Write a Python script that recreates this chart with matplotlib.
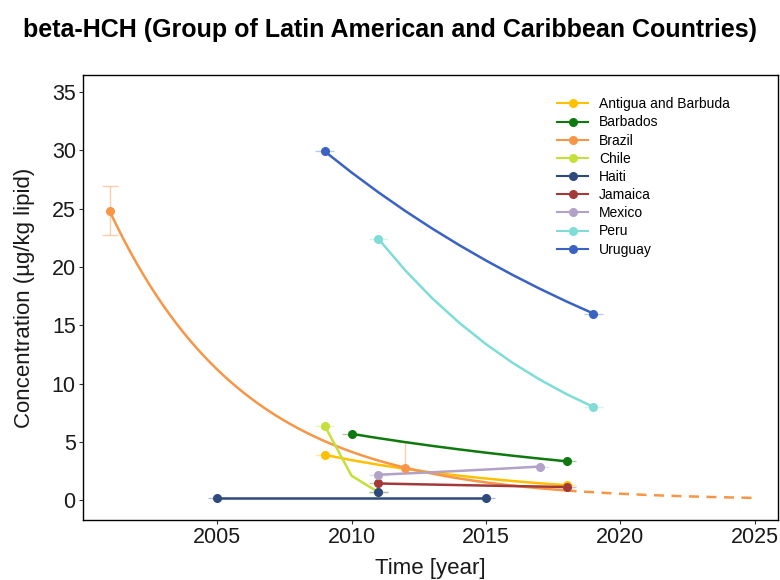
import numpy as np
import matplotlib
matplotlib.use("Agg")
import matplotlib.pyplot as plt

plt.rcParams['font.family'] = ['Liberation Sans', 'DejaVu Sans']

countries = ["Antigua and Barbuda", "Barbados", "Brazil", "Chile", "Haiti",
             "Jamaica", "Mexico", "Peru", "Uruguay"]
colors = ["#FFC000", "#0E7A0E", "#F79646", "#C5E03A", "#2E4A7D",
          "#A33A3A", "#B3A2C7", "#7FDCD6", "#3A62C4"]

years = {
    "Antigua and Barbuda": [2009, 2018],
    "Barbados": [2010, 2018],
    "Brazil": [2001, 2012],
    "Chile": [2009, 2011],
    "Haiti": [2005, 2015],
    "Jamaica": [2011, 2018],
    "Mexico": [2011, 2017],
    "Peru": [2011, 2019],
    "Uruguay": [2009, 2019],
}
values = {
    "Antigua and Barbuda": [3.9, 1.3],
    "Barbados": [5.7, 3.35],
    "Brazil": [24.8, 2.8],
    "Chile": [6.4, 0.7],
    "Haiti": [0.2, 0.2],
    "Jamaica": [1.45, 1.15],
    "Mexico": [2.2, 2.9],
    "Peru": [22.4, 8.0],
    "Uruguay": [29.9, 16.0],
}
# extra single measurement
haiti_extra_year = [2011]
haiti_extra_value = [0.7]

brazil_yerr_low = [2.1, 0.0]
brazil_yerr_high = [2.1, 2.2]
brazil_fit_end = 2018
brazil_proj_end = 2025

fig = plt.figure(figsize=(7.8, 5.8), dpi=100)
ax = fig.add_axes([0.106, 0.103, 0.891, 0.768])

handles = []
for c, col in zip(countries, colors):
    yr = np.array(years[c], dtype=float)
    v = np.array(values[c], dtype=float)
    slope, icpt = np.polyfit(yr, np.log(v), 1)
    if c == "Brazil":
        t1 = np.arange(yr[0], brazil_fit_end + 0.01, 0.25)
        ax.plot(t1, np.exp(icpt + slope * t1), color=col, lw=1.8, zorder=2)
        t2 = np.arange(brazil_fit_end, brazil_proj_end + 0.01, 0.25)
        ax.plot(t2, np.exp(icpt + slope * t2), color=col, lw=1.8, ls=(0, (4, 3)), zorder=2)
        ax.errorbar(yr, v, yerr=[brazil_yerr_low, brazil_yerr_high], fmt='none',
                    ecolor=col, alpha=0.45, elinewidth=1, capsize=6, zorder=1)
    else:
        t = np.arange(yr[0], yr[1] + 0.01, 1.0)
        ax.plot(t, np.exp(icpt + slope * t), color=col, lw=1.8, zorder=2)
        ax.errorbar(yr, v, xerr=0.35, fmt='none', ecolor=col, alpha=0.35,
                    elinewidth=1, capsize=0, zorder=1)
    ax.plot(yr, v, 'o', color=col, ms=5.5, zorder=3)
    handles.append(plt.Line2D([], [], color=col, marker='o', ms=5.5, lw=1.5))

ax.errorbar(haiti_extra_year, haiti_extra_value, xerr=0.35, fmt='none',
            ecolor=colors[4], alpha=0.35, elinewidth=1, zorder=1)
ax.plot(haiti_extra_year, haiti_extra_value, 'o', color=colors[4], ms=5.5, zorder=3)

ax.set_xlim(2000.0, 2025.85)
ax.set_ylim(-1.7, 36.45)
ax.set_xticks([2005, 2010, 2015, 2020, 2025])
ax.set_yticks([0, 5, 10, 15, 20, 25, 30, 35])
ax.tick_params(labelsize=15.5, length=3, width=0.8, colors='#333333', labelcolor='#1a1a1a', pad=2)
for s in ax.spines.values():
    s.set_linewidth(1.0)
    s.set_color('black')

ax.set_xlabel("Time [year]", fontsize=16, labelpad=7, color='#1a1a1a')
ax.set_ylabel("Concentration (µg/kg lipid)", fontsize=16, labelpad=12, color='#1a1a1a')
fig.text(0.5, 0.948, "beta-HCH (Group of Latin American and Caribbean Countries)",
         ha='center', va='center', fontsize=18, fontweight='bold')

ax.legend(handles, countries, loc='upper left', bbox_to_anchor=(0.675, 0.962),
          frameon=False, fontsize=10, handlelength=2.2, labelspacing=0.3,
          handletextpad=0.8, borderaxespad=0)

fig.savefig("out.png", dpi=100)
